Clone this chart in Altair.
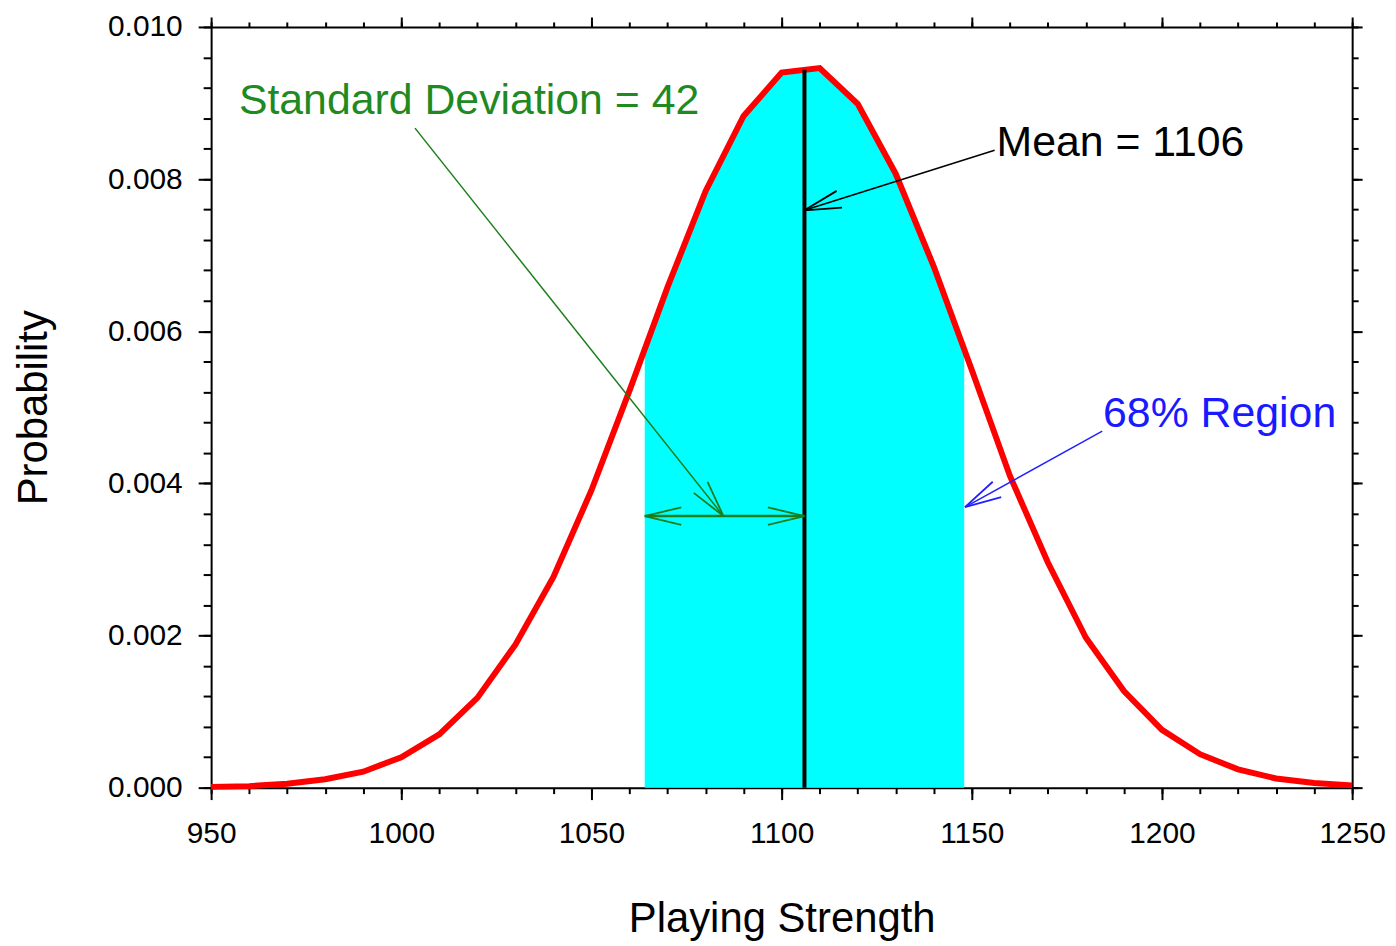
import math
import altair as alt
import pandas as pd
import numpy as np

# ---------------- data ----------------
strength = [950, 960, 970, 980, 990, 1000, 1010, 1020, 1030, 1040,
            1050, 1060, 1070, 1080, 1090, 1100, 1110, 1120, 1130, 1140,
            1150, 1160, 1170, 1180, 1190, 1200, 1210, 1220, 1230, 1240, 1250]
probability = [0.00001, 0.00002, 0.00005, 0.00011, 0.00021, 0.00040, 0.00070,
               0.00118, 0.00188, 0.00277, 0.00391, 0.00522, 0.00658, 0.00784,
               0.00883, 0.00940, 0.00946, 0.00899, 0.00807, 0.00685, 0.00549,
               0.00410, 0.00296, 0.00197, 0.00127, 0.00076, 0.00044, 0.00024,
               0.00012, 0.00006, 0.00003]

MEAN = 1106
SD = 42
REGION_LO = 1064
REGION_HI = 1148

x_major = [950, 1000, 1050, 1100, 1150, 1200, 1250]
x_minor = list(range(950, 1251, 10))
y_major = [0.0, 0.002, 0.004, 0.006, 0.008, 0.010]
y_minor = [round(0.0004 * i, 4) for i in range(26)]

# annotation texts
text_labels = ["Standard Deviation = 42", "Mean = 1106", "68% Region"]
text_x = [957.3, 1156.5, 1184.5]
text_y = [0.00886, 0.00831, 0.00474]
text_colors = ["#1f8a1f", "#000000", "#1a1aff"]

# annotation arrows (start -> tip)
arrow_x = [1003.6, 1156.0, 1184.3]
arrow_y = [0.00867, 0.00838, 0.004686]
arrow_x2 = [1084.7, 1106.0, 1148.2]
arrow_y2 = [0.00357, 0.00759, 0.003687]
arrow_colors = ["#1a7f1a", "#000000", "#2020ff"]
sd_bar_y = 0.00357

# ---------------- geometry ----------------
W, H = 1146, 764
XD = [950, 1250]
YD = [0.0, 0.010]
kx = W / (XD[1] - XD[0])
ky = H / (YD[1] - YD[0])

font = "Liberation Sans"

curve = pd.DataFrame({"x": strength, "p": probability})
reg_x = [REGION_LO] + [s for s in strength if REGION_LO < s < REGION_HI] + [REGION_HI]
region = pd.DataFrame({"x": reg_x, "p": np.interp(reg_x, strength, probability)})
mean_top = float(np.interp(MEAN, strength, probability))
mean_df = pd.DataFrame({"x": [MEAN], "y": [0.0], "y2": [mean_top]})

arrows = pd.DataFrame({"x": arrow_x, "y": arrow_y, "x2": arrow_x2, "y2": arrow_y2,
                       "c": arrow_colors})
sd_bar = pd.DataFrame({"x": [REGION_LO], "x2": [MEAN], "y": [sd_bar_y]})


def ang(x1, y1, x2, y2):
    dx = (x2 - x1) * kx
    dy = -(y2 - y1) * ky
    return math.degrees(math.atan2(dy, dx)) % 360


heads = pd.DataFrame({
    "x": arrow_x2 + [REGION_LO, MEAN],
    "y": arrow_y2 + [sd_bar_y, sd_bar_y],
    "a": [ang(arrow_x[i], arrow_y[i], arrow_x2[i], arrow_y2[i]) for i in range(3)] + [180.0, 0.0],
    "c": arrow_colors + ["#1a7f1a", "#1a7f1a"],
})
texts = pd.DataFrame({"t": text_labels, "x": text_x, "y": text_y, "c": text_colors})

xs = alt.Scale(domain=XD, nice=False, zero=False)
ys = alt.Scale(domain=YD, nice=False, zero=False)

common = dict(grid=False, domainColor="black", tickColor="black", labelColor="black",
              titleColor="black", labelFont=font, titleFont=font, labelFlush=False,
              labelOverlap=False, labelBound=False)

ax_x_major = alt.Axis(orient="bottom", values=x_major, format="d", title="Playing Strength",
                      tickSize=12, tickWidth=2, domainWidth=2, labelPadding=19, labelFontSize=30,
                      titleFontSize=42, titleFontWeight="normal", titleY=111, **common)
ax_x_minor = alt.Axis(orient="bottom", values=x_minor, labels=False, title=None, domain=False,
                      tickSize=6, tickWidth=2, grid=False, tickColor="black")
ax_x_top_major = alt.Axis(orient="top", values=x_major, labels=False, title=None, domainWidth=2,
                          domainColor="black", tickSize=10, tickWidth=2, grid=False, tickColor="black")
ax_x_top_minor = alt.Axis(orient="top", values=x_minor, labels=False, title=None, domain=False,
                          tickSize=5, tickWidth=2, grid=False, tickColor="black")

ax_y_major = alt.Axis(orient="left", values=y_major, format=".3f", title="Probability",
                      tickSize=13, tickWidth=2, domainWidth=2, labelPadding=16, labelFontSize=30,
                      titleFontSize=42, titleFontWeight="normal", titleX=-156, titleY=H / 2,
                      **common)
ax_y_minor = alt.Axis(orient="left", values=y_minor, labels=False, title=None, domain=False,
                      tickSize=8, tickWidth=2, grid=False, tickColor="black")
ax_y_right_major = alt.Axis(orient="right", values=y_major, labels=False, title=None, domainWidth=2,
                            domainColor="black", tickSize=10, tickWidth=2, grid=False, tickColor="black")
ax_y_right_minor = alt.Axis(orient="right", values=y_minor, labels=False, title=None, domain=False,
                            tickSize=6, tickWidth=2, grid=False, tickColor="black")

area = alt.Chart(region).mark_area(color="#00ffff", opacity=1).encode(
    x=alt.X("x:Q", scale=xs, axis=ax_x_major),
    y=alt.Y("p:Q", scale=ys, axis=ax_y_major, stack=None),
)

line = alt.Chart(curve).mark_line(color="#ff0000", strokeWidth=6).encode(
    x=alt.X("x:Q", scale=xs, axis=ax_x_minor),
    y=alt.Y("p:Q", scale=ys, axis=ax_y_minor),
)

mean_rule = alt.Chart(mean_df).mark_rule(color="black", strokeWidth=4).encode(
    x=alt.X("x:Q", scale=xs, axis=ax_x_top_major),
    y=alt.Y("y:Q", scale=ys, axis=ax_y_right_major),
    y2="y2:Q",
)

arrow_lines = alt.Chart(arrows).mark_rule(strokeWidth=1.5).encode(
    x=alt.X("x:Q", scale=xs, axis=ax_x_top_minor),
    y=alt.Y("y:Q", scale=ys, axis=ax_y_right_minor),
    x2="x2:Q",
    y2="y2:Q",
    color=alt.Color("c:N", scale=None),
)

sd_line = alt.Chart(sd_bar).mark_rule(strokeWidth=2.5, color="#1a7f1a").encode(
    x=alt.X("x:Q", scale=xs, axis=None),
    x2="x2:Q",
    y=alt.Y("y:Q", scale=ys, axis=None),
)

arrow_heads = alt.Chart(heads).mark_point(
    shape="M0,0L-1,-0.24M0,0L-1,0.24", size=5400, filled=False, strokeWidth=1.8, opacity=1
).encode(
    x=alt.X("x:Q", scale=xs, axis=None),
    y=alt.Y("y:Q", scale=ys, axis=None),
    angle=alt.Angle("a:Q", scale=None),
    color=alt.Color("c:N", scale=None),
)

labels = alt.Chart(texts).mark_text(
    align="left", baseline="alphabetic", font=font, fontSize=43
).encode(
    x=alt.X("x:Q", scale=xs, axis=None),
    y=alt.Y("y:Q", scale=ys, axis=None),
    text="t:N",
    color=alt.Color("c:N", scale=None),
)

chart = alt.layer(
    area, line, mean_rule, arrow_lines, sd_line, arrow_heads, labels
).resolve_axis(
    x="independent", y="independent"
).properties(
    width=W, height=H,
    autosize=alt.AutoSizeParams(type="none"),
    padding={"left": 204, "top": 17, "right": 36, "bottom": 154},
).configure_view(stroke=None).configure(background="white")

chart.save("out.html", embed_options={"renderer": "svg", "actions": False})
